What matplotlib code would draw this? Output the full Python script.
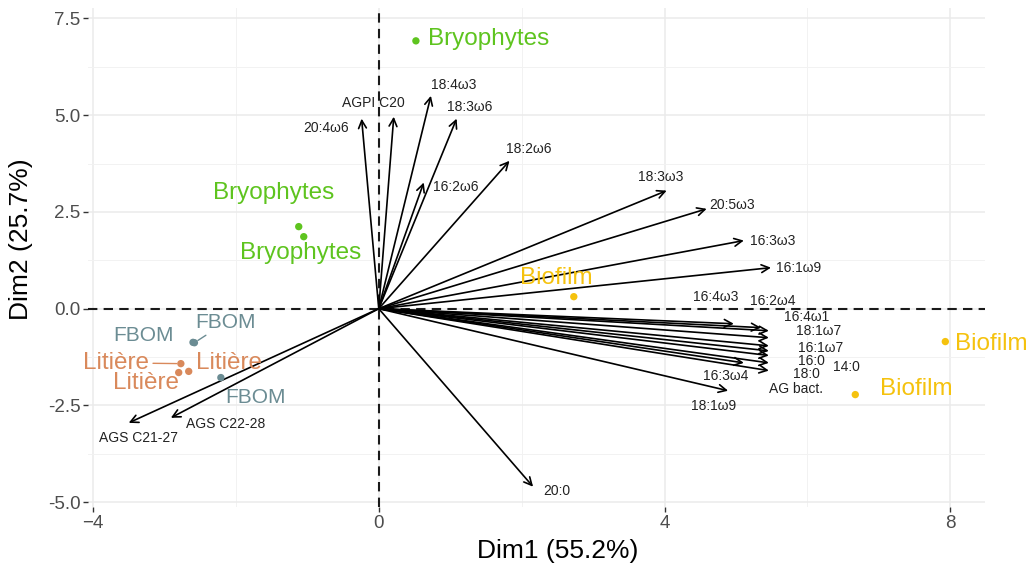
import numpy as np
import matplotlib
matplotlib.use("Agg")
import matplotlib.pyplot as plt
from matplotlib.ticker import MultipleLocator

plt.rcParams["font.family"] = ["Liberation Sans", "DejaVu Sans"]

# Variables (fleches) ------------------------------
var_noms = ["20:4ω6", "AGPI C20", "18:4ω3", "18:3ω6", "18:2ω6", "16:2ω6",
            "18:3ω3", "20:5ω3", "16:3ω3", "16:1ω9", "16:4ω3", "16:2ω4",
            "16:4ω1", "18:1ω7", "16:1ω7", "16:0", "14:0", "18:0", "AG bact.",
            "16:3ω4", "18:1ω9", "AGS C21-27", "AGS C22-28", "20:0"]
var_x = [-0.24, 0.21, 0.73, 1.09, 1.83, 0.63,
         4.03, 4.59, 5.11, 5.49, 4.97, 5.35,
         5.46, 5.46, 5.46, 5.46, 5.46, 5.46, 5.46,
         5.11, 4.89, -3.50, -2.91, 2.16]
var_y = [4.91, 4.96, 5.50, 4.91, 3.82, 3.26,
         3.05, 2.58, 1.76, 1.06, -0.39, -0.49,
         -0.57, -0.75, -0.96, -1.09, -1.21, -1.40, -1.60,
         -1.40, -2.12, -2.95, -2.82, -4.60]
# positions des etiquettes (repel)
var_lx = [-0.74, -0.07, 1.05, 1.27, 2.10, 1.08,
          3.95, 4.94, 5.52, 5.88, 4.72, 5.52,
          5.99, 6.15, 6.19, 6.05, 6.55, 5.98, 5.84,
          4.86, 4.69, -3.36, -2.14, 2.49]
var_ly = [4.68, 5.32, 5.79, 5.22, 4.13, 3.15,
          3.41, 2.69, 1.76, 1.06, 0.31, 0.21,
          -0.21, -0.57, -1.01, -1.34, -1.50, -1.68, -2.07,
          -1.73, -2.51, -3.33, -2.97, -4.70]

# Individus ------------------------------
ind_groupe = ["Bryophytes", "Bryophytes", "Bryophytes",
              "Biofilm", "Biofilm", "Biofilm",
              "FBOM", "FBOM", "FBOM",
              "Litière", "Litière", "Litière"]
ind_x = [0.52, -1.12, -1.05, 2.73, 7.93, 6.67, -2.58, -2.60, -2.21, -2.77, -2.80, -2.66]
ind_y = [6.92, 2.12, 1.86, 0.31, -0.85, -2.22, -0.88, -0.87, -1.78, -1.42, -1.65, -1.62]
ind_lx = [1.54, -1.47, -1.09, 2.48, 8.57, 7.52, -2.14, -3.29, -1.73, -3.68, -2.10, -3.26]
ind_ly = [6.98, 3.00, 1.45, 0.80, -0.90, -2.07, -0.35, -0.69, -2.29, -1.40, -1.40, -1.91]
# etiquettes avec segment (ggrepel)
ind_seg = [False, False, False, False, False, False, True, False, False, True, False, False]

couleurs = {"Bryophytes": "#5ec41f", "Biofilm": "#f5c20e",
            "FBOM": "#6b8c93", "Litière": "#d9895b"}
taille = {"Bryophytes": 17.5, "Biofilm": 17.5, "FBOM": 15, "Litière": 17.5}

fig = plt.figure(figsize=(10.35, 5.68), dpi=100)
ax = fig.add_axes([0.085, 0.107, 0.867, 0.879])

ax.set_xlim(-4.07, 8.49)
ax.set_ylim(-5.13, 7.77)
ax.xaxis.set_major_locator(MultipleLocator(4))
ax.xaxis.set_minor_locator(MultipleLocator(2))
ax.yaxis.set_major_locator(MultipleLocator(2.5))
ax.yaxis.set_minor_locator(MultipleLocator(1.25))
ax.grid(which="major", color="#ebebeb", lw=1.1)
ax.grid(which="minor", color="#f2f2f2", lw=0.7)
ax.set_axisbelow(True)
for s in ax.spines.values():
    s.set_visible(False)
ax.tick_params(which="major", length=3.5, width=1, color="#333333",
               labelsize=13.5, labelcolor="#4d4d4d", pad=2)
ax.tick_params(which="minor", length=0)
ax.yaxis.set_major_formatter(matplotlib.ticker.FormatStrFormatter("%.1f"))

ax.axhline(0, color="#1a1a1a", ls=(0, (4.5, 3)), lw=1.5, zorder=1)
ax.axvline(0, color="#1a1a1a", ls=(0, (4.5, 3)), lw=1.5, zorder=1)

# fleches
for nom, x, y, lx, ly in zip(var_noms, var_x, var_y, var_lx, var_ly):
    ax.annotate("", xy=(x, y), xytext=(0, 0),
                arrowprops=dict(arrowstyle="->", lw=1.2, color="black",
                                shrinkA=0, shrinkB=0, mutation_scale=14))
    ax.text(lx, ly, nom, fontsize=10, color="#222222", ha="center", va="center")

# individus
for g, x, y, lx, ly, seg in zip(ind_groupe, ind_x, ind_y, ind_lx, ind_ly, ind_seg):
    c = couleurs[g]
    ax.scatter(x, y, s=28, color=c, zorder=3, edgecolors="none")
    if seg:
        ax.annotate(g, xy=(x, y), xytext=(lx, ly), fontsize=taille[g], color=c,
                    ha="center", va="center", zorder=4,
                    arrowprops=dict(arrowstyle="-", color=c, lw=1,
                                    shrinkA=1, shrinkB=3))
    else:
        ax.text(lx, ly, g, fontsize=taille[g], color=c, ha="center", va="center",
                zorder=4)

ax.set_xlabel("Dim1 (55.2%)", fontsize=19)
ax.set_ylabel("Dim2 (25.7%)", fontsize=19)
ax.xaxis.set_label_coords(0.523, -0.063)
ax.yaxis.set_label_coords(-0.061, 0.537)

fig.savefig("out.png", dpi=100)
